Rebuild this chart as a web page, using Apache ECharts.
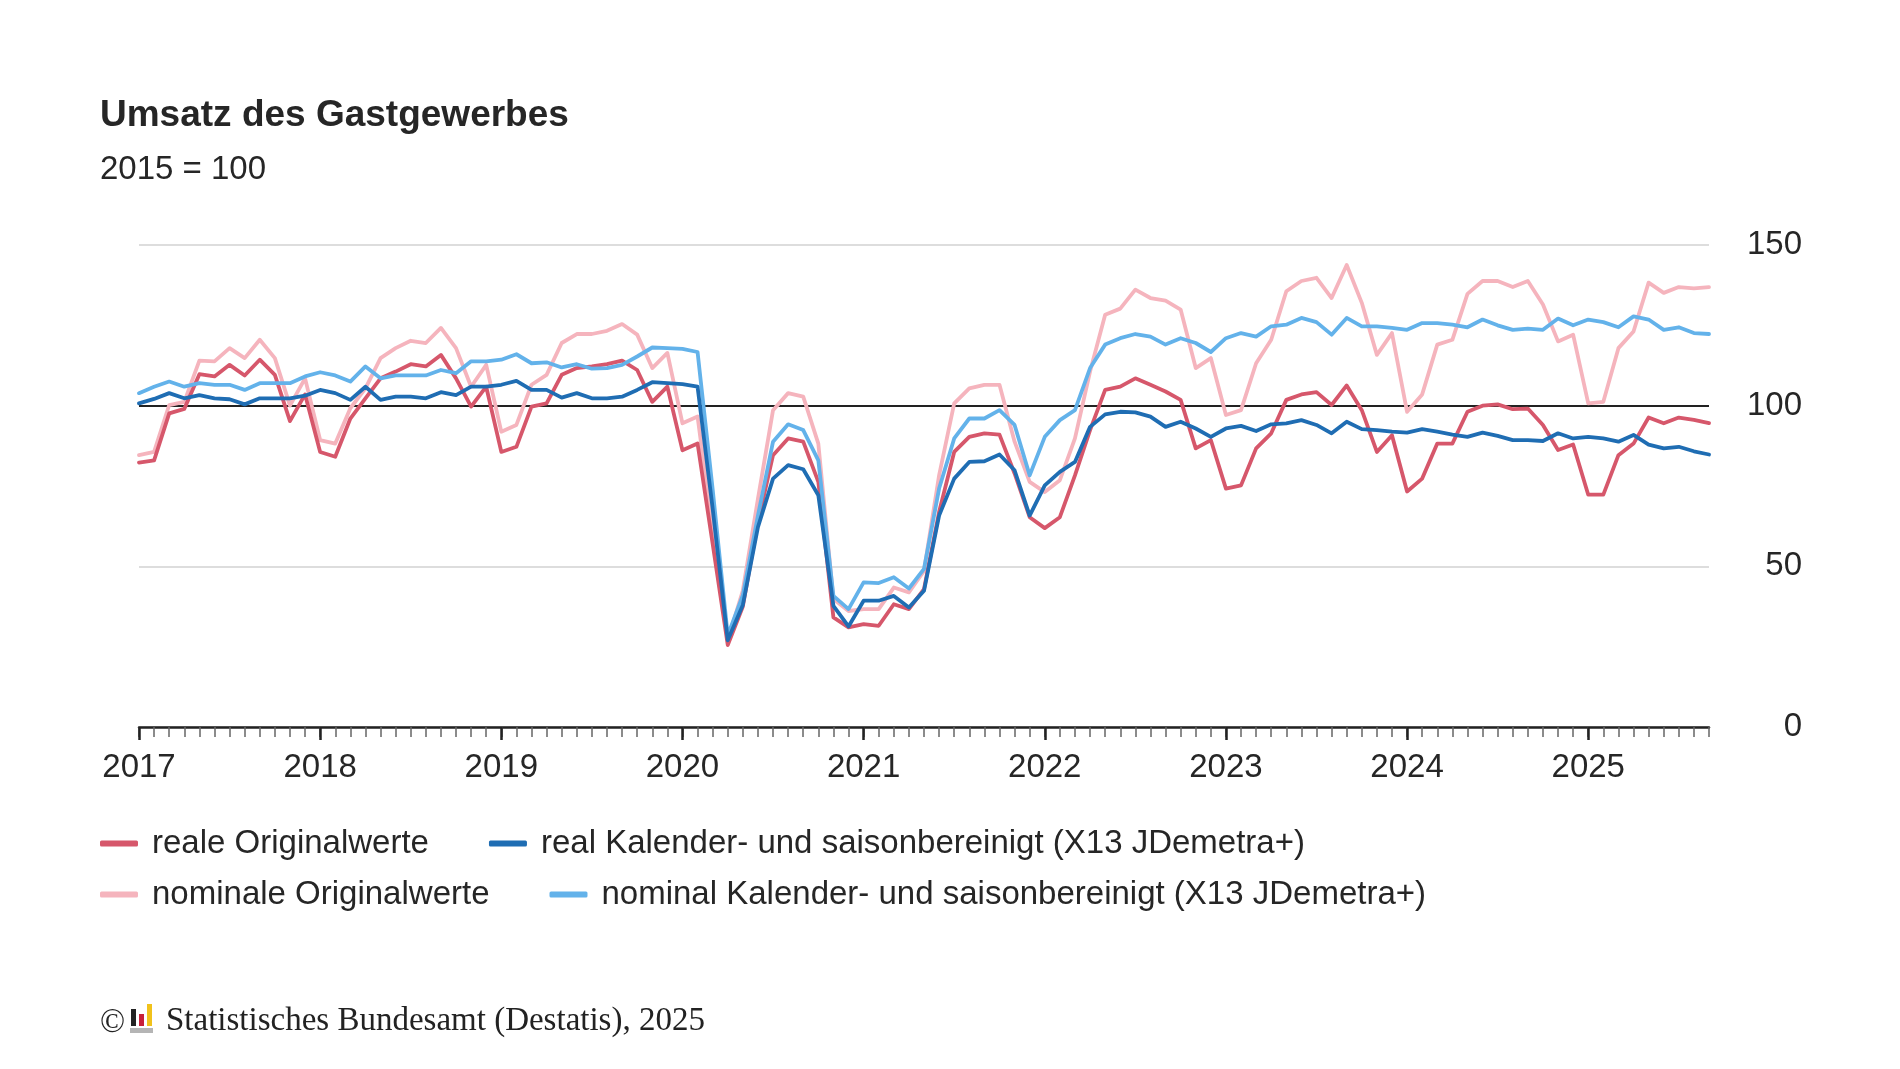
<!DOCTYPE html>
<html>
<head>
<meta charset="utf-8">
<script src="https://cdn.jsdelivr.net/npm/echarts@6/dist/echarts.min.js"></script>
<style>
html,body{margin:0;padding:0;background:#fff;}
#chart{width:1900px;height:1069px;}
</style>
</head>
<body>
<div id="chart"></div>
<script>
// ---- Data ----
const years = ['2017','2018','2019','2020','2021','2022','2023','2024','2025'];
const monthsPerYear = 12;
const lastYearMonths = 9; // Jan..Sep 2025

const seriesNames = [
  'reale Originalwerte',
  'real Kalender- und saisonbereinigt (X13 JDemetra+)',
  'nominale Originalwerte',
  'nominal Kalender- und saisonbereinigt (X13 JDemetra+)'
];

const realOriginal = [
  82.3, 83.0, 97.6, 99.0, 109.8, 109.1, 112.7, 109.4, 114.3, 109.6, 95.2, 103.5,
  85.6, 84.1, 96.0, 102.3, 108.5, 110.6, 112.9, 112.2, 115.8, 108.5, 99.7, 105.9,
  85.6, 87.2, 99.7, 100.7, 109.6, 111.7, 112.2, 112.9, 114.0, 111.1, 101.2, 105.9,
  86.1, 88.2, 57.0, 25.5, 37.5, 63.8, 84.6, 89.8, 88.8, 76.3, 34.1, 31.0,
  32.0, 31.5, 38.2, 36.7, 42.9, 66.9, 85.6, 90.3, 91.4, 91.0, 78.9, 65.3,
  61.9, 65.3, 78.3, 92.4, 104.9, 105.9, 108.5, 106.5, 104.4, 101.8, 86.7, 89.3,
  74.2, 75.2, 86.7, 91.4, 101.8, 103.5, 104.2, 100.2, 106.3, 98.6, 85.6, 90.8,
  73.3, 77.3, 88.2, 88.2, 98.1, 100.0, 100.4, 98.9, 99.1, 94.0, 86.2, 87.9,
  72.3, 72.3, 84.6, 88.2, 96.3, 94.5, 96.3, 95.6, 94.6
];
const realAdjusted = [
  100.7, 102.1, 103.9, 102.3, 103.3, 102.3, 102.0, 100.4, 102.3, 102.3, 102.3, 103.1,
  104.9, 103.9, 101.8, 105.9, 101.8, 102.8, 102.8, 102.3, 104.2, 103.3, 105.9, 105.9,
  106.5, 107.7, 104.9, 104.9, 102.5, 103.9, 102.3, 102.3, 102.8, 104.9, 107.3, 107.0,
  106.7, 105.9, 68.0, 27.0, 38.0, 62.2, 77.3, 81.5, 80.2, 72.1, 37.7, 31.3,
  39.3, 39.3, 40.8, 37.2, 42.4, 65.8, 77.3, 82.5, 82.7, 84.8, 79.9, 65.8,
  75.2, 79.4, 82.5, 93.4, 97.3, 98.1, 97.9, 96.6, 93.4, 95.0, 92.9, 90.3,
  92.9, 93.7, 92.1, 94.2, 94.5, 95.5, 94.0, 91.4, 95.0, 92.7, 92.4, 91.9,
  91.6, 92.7, 91.9, 91.0, 90.3, 91.6, 90.6, 89.3, 89.3, 89.0, 91.4, 89.8,
  90.3, 89.8, 88.8, 90.9, 87.9, 86.7, 87.2, 85.8, 84.8
];
const nominalOriginal = [
  84.6, 85.6, 100.2, 101.2, 114.0, 113.8, 117.9, 114.8, 120.5, 114.8, 100.0, 108.5,
  89.3, 88.2, 99.2, 105.4, 114.8, 117.9, 120.2, 119.5, 124.2, 117.9, 105.9, 112.7,
  91.9, 94.0, 106.5, 109.6, 119.5, 122.3, 122.3, 123.3, 125.4, 122.1, 111.7, 116.4,
  94.5, 96.6, 61.0, 27.0, 42.5, 71.0, 98.6, 103.9, 102.8, 88.2, 39.8, 36.1,
  36.7, 36.7, 43.4, 41.9, 48.6, 78.3, 100.7, 105.4, 106.5, 106.5, 88.8, 76.3,
  73.1, 76.8, 89.8, 110.6, 128.3, 130.2, 136.1, 133.5, 132.7, 129.9, 111.7, 114.8,
  97.1, 98.6, 113.2, 120.5, 135.6, 138.8, 139.8, 133.5, 143.8, 132.0, 115.8, 122.6,
  98.1, 103.5, 119.0, 120.5, 134.8, 138.8, 138.8, 136.9, 138.8, 131.5, 120.0, 122.1,
  100.7, 101.2, 117.9, 123.1, 138.3, 135.1, 136.9, 136.5, 136.9
];
const nominalAdjusted = [
  103.9, 105.9, 107.5, 105.9, 107.0, 106.5, 106.5, 104.9, 107.0, 107.0, 107.0, 109.1,
  110.4, 109.4, 107.5, 112.2, 108.5, 109.4, 109.4, 109.4, 111.1, 110.1, 113.8, 113.8,
  114.3, 116.0, 113.2, 113.5, 111.9, 112.9, 111.5, 111.7, 112.7, 115.3, 118.1, 117.9,
  117.7, 116.7, 74.0, 28.5, 41.0, 65.8, 88.8, 94.2, 92.4, 83.0, 40.8, 36.7,
  45.0, 44.8, 46.6, 43.1, 49.2, 74.2, 89.8, 96.0, 96.0, 98.6, 94.0, 78.3,
  90.3, 95.5, 98.6, 111.7, 119.0, 121.0, 122.3, 121.5, 119.0, 121.0, 119.5, 116.7,
  121.0, 122.6, 121.5, 124.7, 125.2, 127.3, 126.0, 122.1, 127.3, 124.7, 124.7, 124.2,
  123.6, 125.7, 125.7, 125.2, 124.4, 126.8, 125.0, 123.6, 124.0, 123.6, 127.1, 125.0,
  126.8, 126.0, 124.4, 127.8, 126.8, 123.6, 124.4, 122.6, 122.3
];
const yTicks = [0, 50, 100, 150];

// categories: one per month
const categories = [];
years.forEach((y, yi) => {
  const n = yi === years.length - 1 ? lastYearMonths : monthsPerYear;
  for (let m = 1; m <= n; m++) categories.push(y + '-' + String(m).padStart(2, '0'));
});

const colors = ['#d6576b', '#1f6db3', '#f5b4bd', '#63b2ea'];
const FONT = '"Liberation Sans", Arial, sans-serif';

const chart = echarts.init(document.getElementById('chart'), null, {renderer: 'canvas'});

function lineSeries(name, data, color, extra) {
  return Object.assign({
    name: name, type: 'line', data: data, symbol: 'none',
    lineStyle: {color: color, width: 3.8, join: 'round', cap: 'round'},
    itemStyle: {color: color},
    emphasis: {disabled: true}
  }, extra || {});
}

const option = {
  animation: false,
  backgroundColor: '#fff',
  textStyle: {fontFamily: FONT},
  title: [
    {text: 'Umsatz des Gastgewerbes', left: 100, top: 97, padding: 0,
     textStyle: {fontSize: 37, fontWeight: 'bold', color: '#262626', fontFamily: FONT}},
    {text: '2015 = 100', left: 100, top: 153, padding: 0,
     textStyle: {fontSize: 33, fontWeight: 'normal', color: '#262626', fontFamily: FONT}}
  ],
  legend: [
    {data: [seriesNames[0], seriesNames[1]], left: 100, top: 827, padding: 0,
     itemWidth: 38, itemHeight: 6, icon: 'roundRect', itemGap: 60,
     textStyle: {fontSize: 33, color: '#262626', fontFamily: FONT, padding: [0, 0, 0, 9]}},
    {data: [seriesNames[2], seriesNames[3]], left: 100, top: 878, padding: 0,
     itemWidth: 38, itemHeight: 6, icon: 'roundRect', itemGap: 60,
     textStyle: {fontSize: 33, color: '#262626', fontFamily: FONT, padding: [0, 0, 0, 9]}}
  ],
  grid: {left: 139, right: 191, top: 245, bottom: 342, containLabel: false},
  xAxis: [
    {type: 'category', data: categories, boundaryGap: false,
     axisLine: {show: true, lineStyle: {color: '#222', width: 2.5}},
     axisTick: {show: true, interval: 0, length: 10, lineStyle: {color: '#666', width: 1.5}},
     axisLabel: {show: true, interval: (i) => i % 12 === 0, formatter: (v) => v.slice(0, 4),
       fontSize: 33, color: '#262626', margin: 24, fontFamily: FONT},
     splitLine: {show: false}},
    {type: 'category', data: categories, boundaryGap: false, position: 'bottom',
     axisLine: {show: false},
     axisTick: {show: true, interval: (i) => i % 12 === 0, length: 13, lineStyle: {color: '#222', width: 2.5}},
     axisLabel: {show: false}, splitLine: {show: false}}
  ],
  yAxis: {
    type: 'value', position: 'right', min: yTicks[0], max: yTicks[yTicks.length - 1], interval: 50,
    axisLine: {show: false}, axisTick: {show: false},
    axisLabel: {fontSize: 33, color: '#262626', align: 'right', margin: 93, fontFamily: FONT},
    splitLine: {show: true, lineStyle: {color: '#d2d2d2', width: 1.5}}
  },
  series: [
    lineSeries(seriesNames[0], realOriginal, colors[0], {
      z: 3,
      markLine: {silent: true, symbol: 'none', label: {show: false},
        lineStyle: {color: '#222', width: 2, type: 'solid'},
        data: [{yAxis: 100}], z: 1}
    }),
    lineSeries(seriesNames[1], realAdjusted, colors[1], {z: 4}),
    lineSeries(seriesNames[2], nominalOriginal, colors[2], {z: 2}),
    lineSeries(seriesNames[3], nominalAdjusted, colors[3], {z: 3})
  ],
  graphic: [
    {type: 'text', left: 100, top: 1007, style: {text: '©', font: '33px "Liberation Serif", serif', fill: '#222'}},
    {type: 'rect', shape: {x: 131, y: 1009, width: 5, height: 17}, style: {fill: '#222'}},
    {type: 'rect', shape: {x: 139, y: 1014, width: 5, height: 12}, style: {fill: '#c8203a'}},
    {type: 'rect', shape: {x: 147, y: 1004, width: 5, height: 22}, style: {fill: '#f1c21b'}},
    {type: 'rect', shape: {x: 130, y: 1028, width: 23, height: 5}, style: {fill: '#b5b5b5'}},
    {type: 'text', left: 166, top: 1005, style: {text: 'Statistisches Bundesamt (Destatis), 2025', font: '33px "Liberation Serif", serif', fill: '#222'}}
  ]
};
chart.setOption(option);
</script>
</body>
</html>
